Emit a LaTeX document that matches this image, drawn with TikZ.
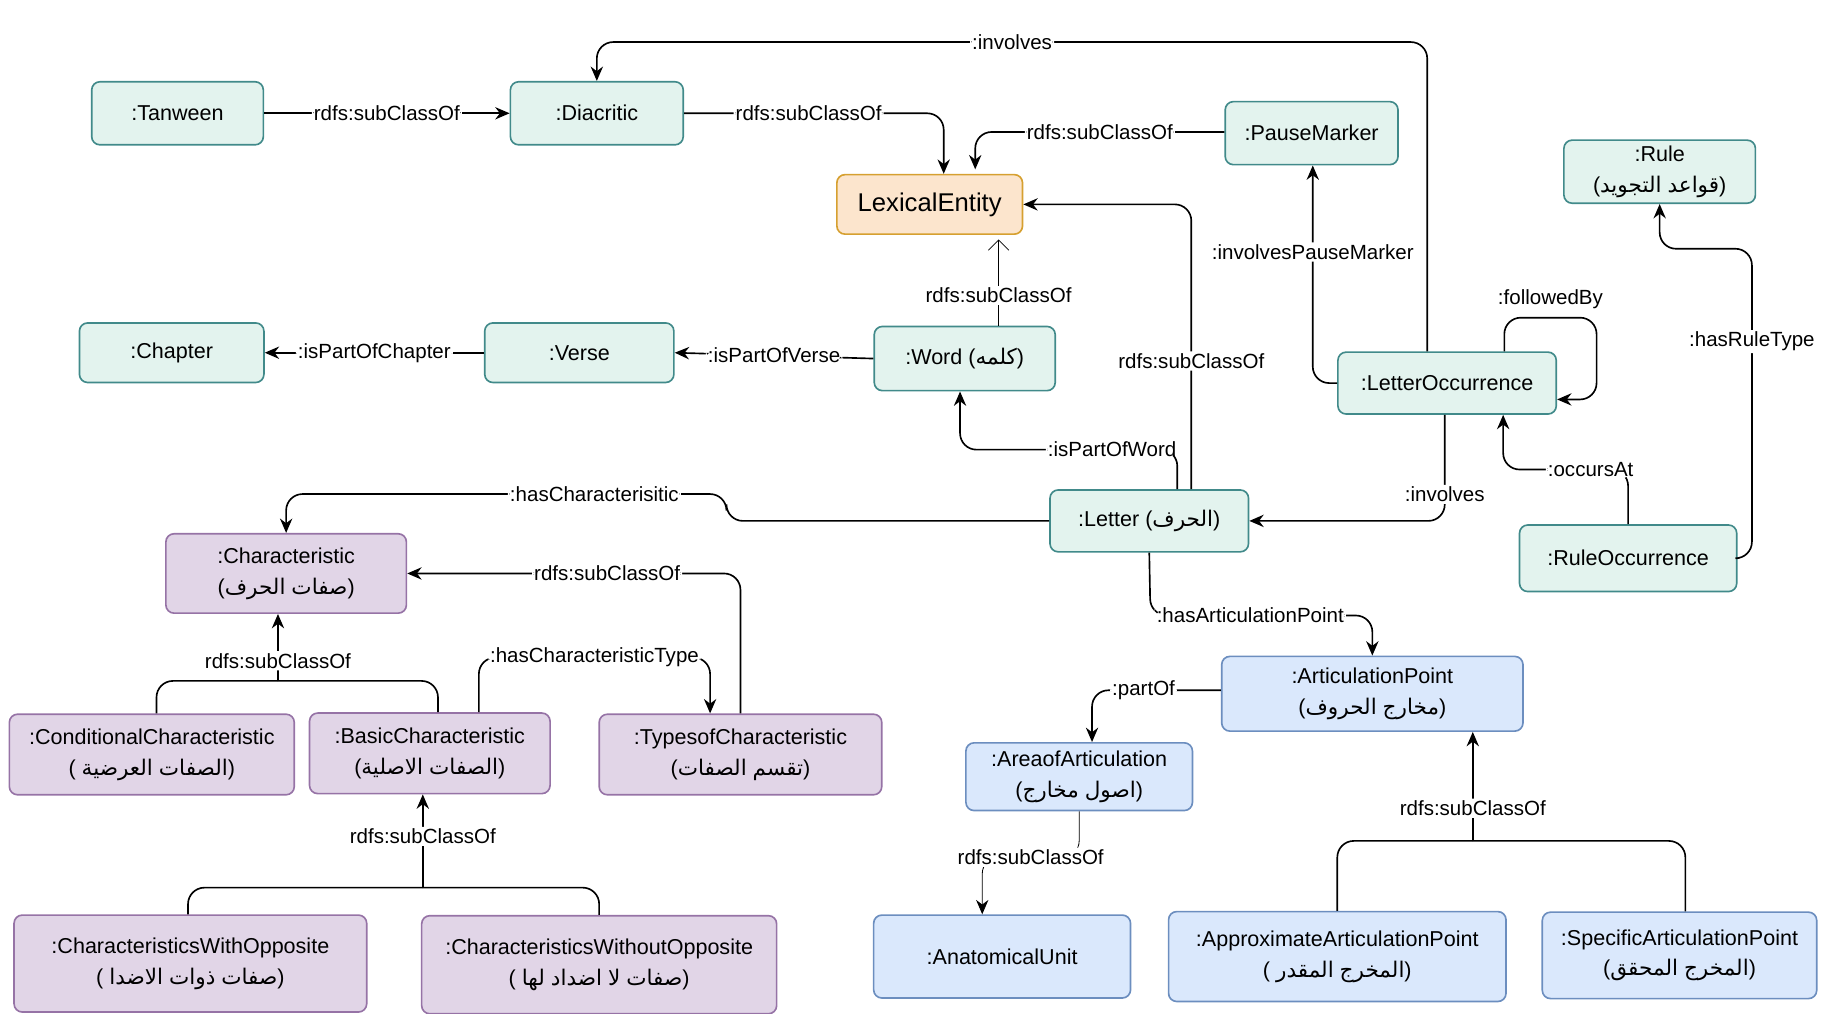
\documentclass[tikz,border=0pt]{standalone}
\usepackage{fontspec}
\setmainfont{Liberation Sans}
\newfontfamily\arfont[Script=Arabic]{DejaVu Sans}
\newcommand\ar[1]{{\arfont #1}}
\usepackage{xcolor}
\usetikzlibrary{arrows.meta,positioning}

\definecolor{tealF}{HTML}{E3F3EE}
\definecolor{tealD}{HTML}{418A8A}
\definecolor{orgF}{HTML}{FCE5CD}
\definecolor{orgD}{HTML}{D6A030}
\definecolor{purF}{HTML}{E1D5E7}
\definecolor{purD}{HTML}{9673A6}
\definecolor{bluF}{HTML}{DAE8FC}
\definecolor{bluD}{HTML}{6C8EBF}

\tikzset{
  box/.style={draw,rounded corners=4pt,thick,align=center,inner sep=2pt,font=\fontsize{10.5}{15}\selectfont},
  lex/.style={box,fill=tealF,draw=tealD},
  ent/.style={box,fill=orgF,draw=orgD},
  chr/.style={box,fill=purF,draw=purD},
  art/.style={box,fill=bluF,draw=bluD},
  lbl/.style={fill=white,inner sep=1pt,font=\fontsize{10}{12}\selectfont},
  rel/.style={-{Stealth[length=7pt,width=6pt]},thick,rounded corners=8pt},
}

\begin{document}
\begin{tikzpicture}[x=0.02cm,y=-0.02cm]
\useasboundingbox (0,0) rectangle (1560,868);

% lexical part (top)
\node[lex,minimum width=2.94cm,minimum height=1.08cm] (tanween) at (152,97) {:Tanween};
\node[lex,minimum width=2.96cm,minimum height=1.08cm] (diacritic) at (511,97) {:Diacritic};
\node[ent,minimum width=3.18cm,minimum height=1.02cm,font=\fontsize{12.5}{15}\selectfont] (lexical) at (796,175) {LexicalEntity};
\node[lex,minimum width=2.96cm,minimum height=1.08cm] (pause) at (1123,114) {:PauseMarker};
\node[lex,minimum width=3.28cm,minimum height=1.08cm] (rule) at (1421,147) {:Rule\\(\ar{التجويد} \ar{قواعد})};
\node[lex,minimum width=3.16cm,minimum height=1.02cm] (chapter) at (147,302) {:Chapter};
\node[lex,minimum width=3.24cm,minimum height=1.02cm] (verse) at (496,302) {:Verse};
\node[lex,minimum width=3.10cm,minimum height=1.10cm] (word) at (826,307) {:Word (\ar{كلمه})};
\node[lex,minimum width=3.74cm,minimum height=1.06cm] (letterocc) at (1239,328) {:LetterOccurrence};
\node[lex,minimum width=3.40cm,minimum height=1.06cm] (letter) at (984,446) {:Letter (\ar{الحرف})};
\node[lex,minimum width=3.72cm,minimum height=1.14cm] (ruleocc) at (1394,478) {:RuleOccurrence};

% characteristics (bottom left)
\node[chr,minimum width=4.12cm,minimum height=1.36cm] (charac) at (245,491) {:Characteristic\\(\ar{الحرف} \ar{صفات})};
\node[chr,minimum width=4.88cm,minimum height=1.38cm] (condchar) at (130,646) {:ConditionalCharacteristic\\( \ar{العرضية} \ar{الصفات})};
\node[chr,minimum width=4.12cm,minimum height=1.38cm] (basicchar) at (368,645) {:BasicCharacteristic\\(\ar{الاصلية} \ar{الصفات})};
\node[chr,minimum width=4.84cm,minimum height=1.38cm] (typeschar) at (634,646) {:TypesofCharacteristic\\(\ar{الصفات} \ar{تقسم})};
\node[chr,minimum width=6.04cm,minimum height=1.66cm] (withopp) at (163,825) {:CharacteristicsWithOpposite\\( \ar{الاضدا} \ar{ذوات} \ar{صفات})};
\node[chr,minimum width=6.08cm,minimum height=1.68cm] (withoutopp) at (513,826) {:CharacteristicsWithoutOpposite\\( \ar{لها} \ar{اضداد} \ar{لا} \ar{صفات})};

% articulation (bottom right)
\node[art,minimum width=5.16cm,minimum height=1.28cm] (artpoint) at (1175,594) {:ArticulationPoint\\(\ar{الحروف} \ar{مخارج})};
\node[art,minimum width=3.88cm,minimum height=1.16cm] (area) at (924,665) {:AreaofArticulation\\(\ar{مخارج} \ar{اصول})};
\node[art,minimum width=4.40cm,minimum height=1.42cm] (anatom) at (858,819) {:AnatomicalUnit};
\node[art,minimum width=5.78cm,minimum height=1.54cm] (approx) at (1145,819) {:ApproximateArticulationPoint\\( \ar{المقدر} \ar{المخرج})};
\node[art,minimum width=4.70cm,minimum height=1.48cm] (specific) at (1438,818) {:SpecificArticulationPoint\\(\ar{المحقق} \ar{المخرج})};

% connectors
\draw[rel] (tanween) -- node[lbl] {rdfs:subClassOf} (diacritic);
\draw[rel] (diacritic.east) -- node[lbl,pos=0.48] {rdfs:subClassOf} (808,97) -- (lexical.north -| 808,0);
\draw[rel] (pause.west |- 0,113) -- node[lbl] {rdfs:subClassOf} (835,113) -- (835,145);
\draw[rel] (letterocc.north -| 1222,0) -- (1222,36) -- node[lbl,pos=0.5] {:involves} (511,36) -- (diacritic.north);
\draw[-{Straight Barb[length=5pt]}] (word.north -| 855,0) -- node[lbl,pos=0.35] {rdfs:subClassOf} (855,205);
\draw[rel] (letter.north -| 1020,0) -- node[lbl,pos=0.45] {rdfs:subClassOf} (1020,175) -- (lexical.east);
\draw[rel] (letter.north -| 1008,0) -- (1008,385) -- node[lbl,pos=0.3] {:isPartOfWord} (822,385) -- (word.south -| 822,0);
\draw[rel] (word.west) -- node[lbl] {:isPartOfVerse} (verse.east);
\draw[rel] (verse) -- node[lbl] {:isPartOfChapter} (chapter);
\draw[rel] (letterocc.west) -- (1124,328) -- node[lbl,pos=0.6] {:involvesPauseMarker} (1124,141) -- (pause.south -| 1124,0);
\draw[rel] (letterocc.north -| 1288,0) -- (1288,272) -- node[lbl,pos=0.5,yshift=9pt] {:followedBy} (1367,272) -- (1367,342) -- (letterocc.east |- 0,342);
\draw[rel] (ruleocc.east) -- (1500,478) -- node[lbl,pos=0.7] {:hasRuleType} (1500,213) -- (1421,213) -- (rule.south);
\draw[rel] (ruleocc.north) -- (1394,402) -- node[lbl,pos=0.3] {:occursAt} (1287,402) -- (letterocc.south -| 1287,0);
\draw[rel] (letterocc.south -| 1237,0) -- node[lbl,pos=0.75] {:involves} (1237,446) -- (letter.east);
\draw[rel] (letter.west) -- (622,446) -- (622,423) -- node[lbl,pos=0.3] {:hasCharacterisitic} (245,423) -- (charac.north);
\draw[rel] (letter.south) -- (985,527) -- node[lbl,pos=0.45] {:hasArticulationPoint} (1175,527) -- (artpoint.north);

\coordinate (cjoin) at (238,583);
\draw[thick,rounded corners=8pt] (condchar.north -| 134,0) -- (134,583) -- (cjoin);
\draw[thick,rounded corners=8pt] (basicchar.north -| 375,0) -- (375,583) -- (cjoin);
\draw[rel] (cjoin) -- node[lbl,pos=0.3] {rdfs:subClassOf} (charac.south -| 238,0);
\draw[rel] (typeschar.north) -- (634,491) -- node[lbl,pos=0.4] {rdfs:subClassOf} (charac.east);
\draw[rel] (basicchar.north -| 410,0) -- (410,563) -- node[lbl,pos=0.5] {:hasCharacteristicType} (608,563) -- (typeschar.north -| 608,0);

\coordinate (bjoin) at (362,760);
\draw[thick,rounded corners=8pt] (withopp.north -| 161,0) -- (161,760) -- (bjoin);
\draw[thick,rounded corners=8pt] (withoutopp.north) -- (513,760) -- (bjoin);
\draw[rel] (bjoin) -- node[lbl,pos=0.55] {rdfs:subClassOf} (basicchar.south -| 362,0);

\draw[rel] (artpoint.west |- 0,591) -- node[lbl,pos=0.6] {:partOf} (935,591) -- (area.north -| 935,0);
\draw[-{Stealth[length=7pt,width=6pt]},rounded corners=8pt] (area.south) -- (924,734) -- node[lbl,pos=0.5] {rdfs:subClassOf} (841,734) -- (anatom.north -| 841,0);

\coordinate (ajoin) at (1261,720);
\draw[thick,rounded corners=8pt] (approx.north) -- (1145,720) -- (ajoin);
\draw[thick,rounded corners=8pt] (specific.north -| 1443,0) -- (1443,720) -- (ajoin);
\draw[rel] (ajoin) -- node[lbl,pos=0.3] {rdfs:subClassOf} (artpoint.south -| 1261,0);
\end{tikzpicture}
\end{document}
